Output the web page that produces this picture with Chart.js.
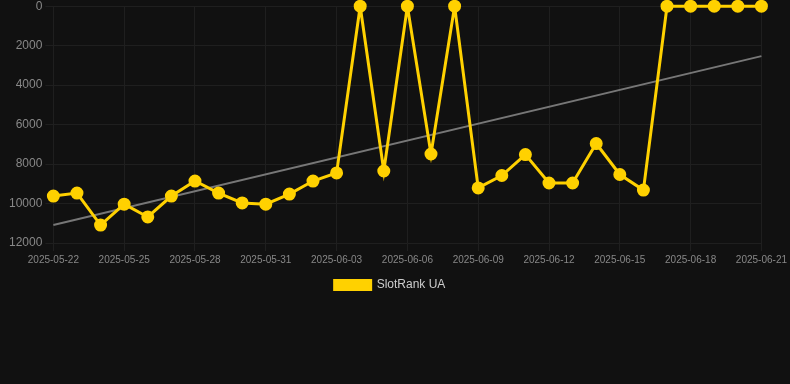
<!DOCTYPE html>
<html>
<head>
<meta charset="utf-8">
<script src="https://cdn.jsdelivr.net/npm/chart.js@4/dist/chart.umd.min.js"></script>
<style>
  html, body { margin: 0; padding: 0; background: #111111; overflow: hidden; }
  #wrap { width: 790px; height: 305px; position: relative; margin-top: -4px; }
</style>
</head>
<body>
<div id="wrap"><canvas id="rank-chart"></canvas></div>
<script>
// Daily rank data
const dates = [
    '2025-05-22', '2025-05-23', '2025-05-24', '2025-05-25', '2025-05-26', '2025-05-27',
    '2025-05-28', '2025-05-29', '2025-05-30', '2025-05-31', '2025-06-01', '2025-06-02',
    '2025-06-03', '2025-06-04', '2025-06-05', '2025-06-06', '2025-06-07', '2025-06-08',
    '2025-06-09', '2025-06-10', '2025-06-11', '2025-06-12', '2025-06-13', '2025-06-14',
    '2025-06-15', '2025-06-16', '2025-06-17', '2025-06-18', '2025-06-19', '2025-06-20',
    '2025-06-21'
];
const rankValues = [
    9620, 9470, 11090, 10030, 10680, 9620,
    8860, 9470, 9970, 10030, 9520, 8860,
    8450, 1, 8350, 1, 7490, 1,
    9210, 8580, 7520, 8960, 8960, 6960,
    8530, 9320, 1, 1, 1, 1,
    1
];
// Trend line end points
const trendDates = ['2025-05-22', '2025-06-21'];
const trendValues = [11090, 2530];

const seriesLabel = 'SlotRank UA';
const gold = '#FFD100';

const ctx = document.getElementById('rank-chart').getContext('2d');
const rankChart = new Chart(ctx, {
    type: 'line',
    data: {
        labels: dates,
        datasets: [{
            label: seriesLabel,
            data: rankValues,
            borderColor: gold,
            backgroundColor: gold,
            borderWidth: 3,
            pointRadius: 5,
            pointBackgroundColor: gold,
            pointBorderColor: gold,
            tension: 0,
            clip: false,
            order: 1
        }, {
            label: 'trend',
            data: trendDates.map((d, i) => ({ x: d, y: trendValues[i] })),
            borderColor: '#777777',
            borderWidth: 2,
            pointRadius: 0,
            order: 2
        }]
    },
    options: {
        responsive: true,
        maintainAspectRatio: false,
        animation: false,
        layout: { padding: { left: 6, right: 16 } },
        plugins: {
            legend: {
                position: 'bottom',
                labels: {
                    color: '#cccccc',
                    boxWidth: 36,
                    boxHeight: 9,
                    font: { family: 'Arial, "Liberation Sans", sans-serif', size: 12 },
                    filter: item => item.text !== 'trend'
                }
            },
            tooltip: { enabled: false }
        },
        scales: {
            x: {
                grid: { color: '#1f1f1f' },
                border: { color: '#1f1f1f' },
                ticks: {
                    color: '#888888',
                    maxRotation: 0,
                    autoSkip: true,
                    autoSkipPadding: 20,
                    font: { family: 'Arial, "Liberation Sans", sans-serif', size: 10 }
                }
            },
            y: {
                reverse: true,
                min: 0,
                max: 12000,
                grid: { color: '#1f1f1f' },
                border: { color: '#1f1f1f' },
                ticks: {
                    stepSize: 2000,
                    color: '#888888',
                    callback: v => String(v),
                    font: { family: 'Arial, "Liberation Sans", sans-serif', size: 12 }
                }
            }
        }
    }
});
</script>
</body>
</html>
